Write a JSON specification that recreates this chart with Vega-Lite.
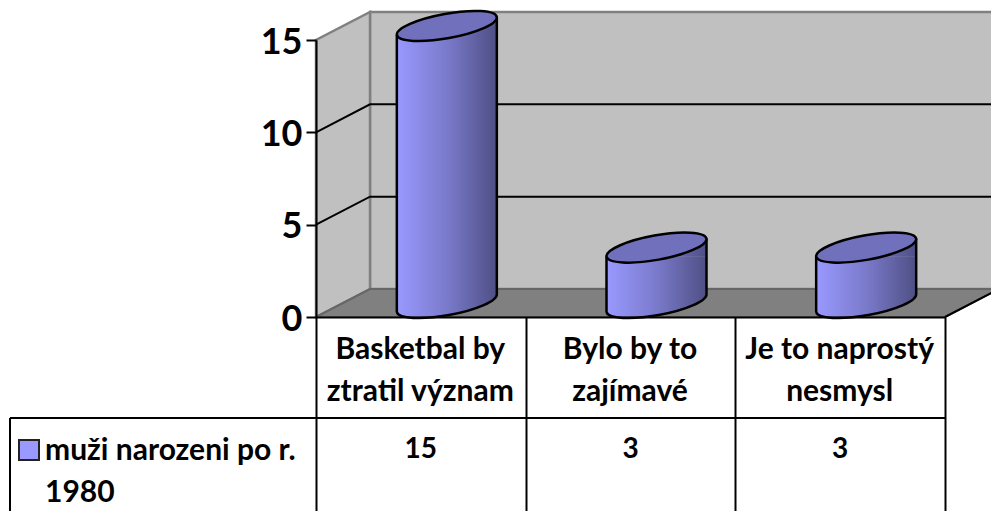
{
"$schema":"https://vega.github.io/schema/vega-lite/v6.json",
"width":629,"height":277,
"padding":{"left":316,"top":40,"right":46,"bottom":194},
"autosize":{"type":"none"},
"background":"white",
"config":{"view":{"stroke":null},"font":"Lato"},
"resolve":{"axis":{"x":"independent","y":"independent"}},
"datasets":{
 "answers":[
  {"category":"Basketbal by ztratil význam","value":15,"series":"muži narozeni po r. 1980"},
  {"category":"Bylo by to zajímavé","value":3,"series":"muži narozeni po r. 1980"},
  {"category":"Je to naprostý nesmysl","value":3,"series":"muži narozeni po r. 1980"}],
 "gridlines":[
  {"category":"Basketbal by ztratil význam","value":5},
  {"category":"Basketbal by ztratil význam","value":10}],
 "origin":[{"category":"Basketbal by ztratil význam","value":0,"top":15,"series":"muži narozeni po r.\n1980"}]
},
"encoding":{
 "x":{"field":"category","type":"nominal","title":null,"scale":{"domain":["Basketbal by ztratil význam","Bylo by to zajímavé","Je to naprostý nesmysl"],"paddingInner":0,"paddingOuter":0},"axis":null},
 "y":{"field":"value","type":"quantitative","title":null,"stack":null,"scale":{"domain":[0,15],"nice":false},"axis":null}
},
"layer":[
 {"data":{"name":"origin"},
  "mark":{"type":"point","filled":true,"size":4,"fill":"#c0c0c0","stroke":"#808080","strokeWidth":2.5,"opacity":1,"shape":"M54,-28L683,-28L683,-305L54,-305Z"},
  "encoding":{"x":{"field":"category","type":"nominal","bandPosition":0,"axis":null}}},
 {"data":{"name":"origin"},
  "mark":{"type":"point","filled":true,"size":4,"fill":"#c0c0c0","stroke":"#808080","strokeWidth":2.5,"opacity":1,"shape":"M0,0L54,-28L54,-305L0,-277Z"},
  "encoding":{"x":{"field":"category","type":"nominal","bandPosition":0,"axis":null}}},
 {"data":{"name":"origin"},
  "mark":{"type":"point","filled":true,"size":4,"fill":"#808080","stroke":"#666666","strokeWidth":2,"opacity":1,"shape":"M0,0L54,-28L683,-28L629,0Z"},
  "encoding":{"x":{"field":"category","type":"nominal","bandPosition":0,"axis":null}}},
 {"data":{"name":"gridlines"},
  "mark":{"type":"point","filled":false,"size":4,"stroke":"#000000","strokeWidth":2,"opacity":1,"shape":"M0,0L54,-28L683,-28"},
  "encoding":{"x":{"field":"category","type":"nominal","bandPosition":0,"axis":null}}},
 {"data":{"name":"origin"},
  "mark":{"type":"point","filled":false,"size":4,"stroke":"#000000","strokeWidth":2,"opacity":1,"shape":"M629,0L683,-28M-306,101L629,101M-306,101L-306,194"},
  "encoding":{"x":{"field":"category","type":"nominal","bandPosition":0,"axis":null}}},
 {"data":{"name":"answers"},
  "mark":{"type":"point","filled":true,"size":4,"stroke":null,"opacity":1,"xOffset":26,"yOffset":-14,
   "fill":{"gradient":"linear","x1":0,"x2":1,"y1":0,"y2":0,"stops":[{"offset":0,"color":"#9999ff"},{"offset":0.5,"color":"#7a7acb"},{"offset":1,"color":"#4f4f85"}]},
   "shape":"M-49.95,-9.04L-49.95,9.04A50.76,12.21,-10.26,1,0,49.95,-9.04Z"},
  "encoding":{"y":{"datum":0,"type":"quantitative","axis":null,"scale":{"domain":[0,15],"nice":false}}}},
 {"data":{"name":"answers"},
  "mark":{"type":"bar","width":100,"xOffset":26,"yOffset":-5,"y2Offset":-23,
   "fill":{"gradient":"linear","x1":0,"x2":1,"y1":0,"y2":0,"stops":[{"offset":0,"color":"#9999ff"},{"offset":0.5,"color":"#7a7acb"},{"offset":1,"color":"#4f4f85"}]}},
  "encoding":{"y2":{"datum":0}}},
 {"data":{"name":"answers"},
  "mark":{"type":"point","filled":true,"size":4,"stroke":null,"opacity":1,"xOffset":26,"yOffset":-14,
   "fill":{"gradient":"linear","x1":0,"x2":1,"y1":0,"y2":0,"stops":[{"offset":0,"color":"#9999ff"},{"offset":0.5,"color":"#7a7acb"},{"offset":1,"color":"#4f4f85"}]},
   "shape":"M-50,9.04L50,-9.04L50,9.04Z"}},
 {"data":{"name":"answers"},
  "mark":{"type":"rule","stroke":"#000000","strokeWidth":2.5,"xOffset":-24,"yOffset":-5,"y2Offset":-5},
  "encoding":{"y2":{"datum":0}}},
 {"data":{"name":"answers"},
  "mark":{"type":"rule","stroke":"#000000","strokeWidth":2.5,"xOffset":76,"yOffset":-23,"y2Offset":-23},
  "encoding":{"y2":{"datum":0}}},
 {"data":{"name":"answers"},
  "mark":{"type":"point","filled":false,"size":4,"stroke":"#000000","strokeWidth":2.5,"opacity":1,"xOffset":26,"yOffset":-14,
   "shape":"M-49.95,9.04A50.76,12.21,-10.26,1,0,49.95,-9.04"},
  "encoding":{"y":{"datum":0,"type":"quantitative","axis":null,"scale":{"domain":[0,15],"nice":false}}}},
 {"data":{"name":"answers"},
  "mark":{"type":"point","filled":true,"size":4,"fill":"#7070bd","stroke":"#000000","strokeWidth":2.5,"opacity":1,"xOffset":26,"yOffset":-14,
   "shape":"M-49.95,9.04A50.76,12.21,-10.26,1,0,49.95,-9.04A50.76,12.21,-10.26,1,0,-49.95,9.04Z"}},
 {"data":{"name":"answers"},
  "mark":{"type":"text","font":"Lato","fontWeight":"bold","fontSize":28,"color":"#000000","baseline":"middle","align":"center","yOffset":133},
  "encoding":{"y":{"datum":0,"type":"quantitative","axis":null,"scale":{"domain":[0,15],"nice":false}},"text":{"field":"value","type":"quantitative"}}},
 {"data":{"name":"origin"},
  "mark":{"type":"point","filled":true,"shape":"square","size":400,"fill":"#9999ff","stroke":"#222222","strokeWidth":2,"opacity":1,"xOffset":-287,"yOffset":133},
  "encoding":{"x":{"field":"category","type":"nominal","bandPosition":0,"axis":null}}},
 {"data":{"name":"origin"},
  "mark":{"type":"text","font":"Lato","fontWeight":"bold","fontSize":30,"color":"#000000","align":"left","baseline":"alphabetic","lineBreak":"\n","lineHeight":42,"xOffset":-271,"yOffset":143},
  "encoding":{"x":{"field":"category","type":"nominal","bandPosition":0,"axis":null},"text":{"field":"series","type":"nominal"}}},
 {"data":{"name":"answers"},
  "mark":{"type":"point","opacity":0,"size":1},
  "encoding":{
   "x":{"field":"category","type":"nominal","title":null,"axis":{"orient":"bottom","title":null,"domain":true,"domainColor":"#000000","domainWidth":2,"ticks":true,"tickBand":"extent","tickSize":194,"tickColor":"#000000","tickWidth":2,"labelAngle":0,"labelAlign":"center","labelBaseline":"top","labelPadding":-177,"labelOffset":-1,"labelFont":"Lato","labelFontWeight":"bold","labelFontSize":30,"labelColor":"#000000","labelLineHeight":42,"labelOverlap":false,"labelBound":false,"labelFlush":false,"labelLimit":0,"zindex":1,
     "labelExpr":"datum.label == 'Basketbal by ztratil význam' ? ['Basketbal by','ztratil význam'] : datum.label == 'Bylo by to zajímavé' ? ['Bylo by to','zajímavé'] : datum.label == 'Je to naprostý nesmysl' ? ['Je to naprostý','nesmysl'] : ''"}},
   "y":{"field":"value","type":"quantitative","title":null,"stack":null,"axis":{"orient":"left","title":null,"values":[0,5,10,15],"grid":false,"domain":true,"domainColor":"#000000","domainWidth":2,"ticks":true,"tickSize":10,"tickColor":"#000000","tickWidth":2,"labelFont":"Lato","labelFontWeight":"bold","labelFontSize":36,"labelColor":"#000000","labelPadding":4,"labelOffset":2,"labelOverlap":false,"labelBound":false,"labelFlush":false,"zindex":1}}
  }}
]
}
